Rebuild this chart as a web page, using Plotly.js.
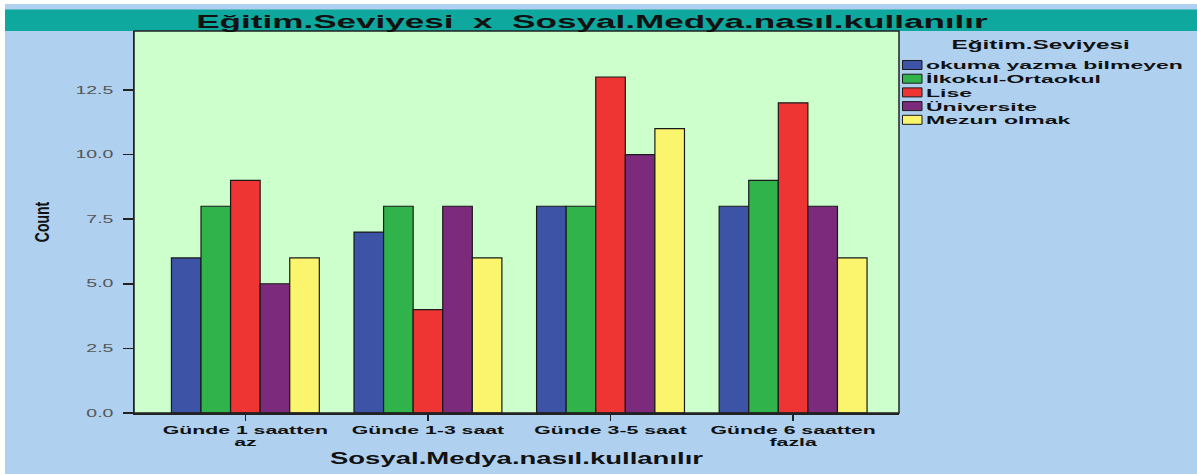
<!DOCTYPE html>
<html>
<head>
<meta charset="utf-8">
<script src="https://cdn.plot.ly/plotly-3.0.1.min.js"></script>
<style>html,body{margin:0;padding:0;background:#fff;}#chart{width:1197px;height:474px;}</style>
</head>
<body>
<div id="chart"></div>
<script>
const categories = ["Günde 1 saatten<br>az", "Günde 1-3 saat", "Günde 3-5 saat", "Günde 6 saatten<br>fazla"];
const seriesNames = ["okuma yazma bilmeyen", "İlkokul-Ortaokul", "Lise", "Üniversite", "Mezun olmak"];
const okumaYazma = [6, 7, 8, 8];
const ilkokul = [8, 8, 8, 9];
const lise = [9, 4, 13, 12];
const universite = [5, 8, 10, 8];
const mezun = [6, 6, 11, 6];
const seriesValues = [okumaYazma, ilkokul, lise, universite, mezun];
const colors = ["#3c53a6", "#2fb34a", "#ef3434", "#7b2a7c", "#faf56c"];
const yTicks = [0, 2.5, 5, 7.5, 10, 12.5];
const legendTitle = "Eğitim.Seviyesi";
const chartTitle = "Eğitim.Seviyesi  x  Sosyal.Medya.nasıl.kullanılır";
const xTitle = "Sosyal.Medya.nasıl.kullanılır";
const yTitle = "Count";

const FONT = 'Liberation Sans, Arial, sans-serif';
const W = 1197, H = 474;
const M = {l: 134, r: 298, t: 31, b: 61};
const plotW = W - M.l - M.r, plotH = H - M.t - M.b;
const px = xPix => (xPix - M.l) / plotW;
const py = yPix => (H - M.b - yPix) / plotH;

const traces = seriesNames.map((n, i) => ({
  type: 'bar',
  name: n,
  x: [0, 1, 2, 3],
  y: seriesValues[i],
  marker: {color: colors[i], line: {color: '#1a1a1a', width: 1.2}},
  hoverinfo: 'y+name'
}));

const shapes = [
  {type: 'rect', xref: 'paper', yref: 'paper', x0: px(0), x1: px(W), y0: py(4), y1: py(0), fillcolor: '#ffffff', line: {width: 0}, layer: 'below'},
  {type: 'rect', xref: 'paper', yref: 'paper', x0: px(0), x1: px(5), y0: py(H), y1: py(0), fillcolor: '#ffffff', line: {width: 0}, layer: 'below'},
  {type: 'rect', xref: 'paper', yref: 'paper', x0: px(5), x1: px(W), y0: py(31), y1: py(9.5), fillcolor: '#0fa89e', line: {width: 0}, layer: 'below'},
  {type: 'rect', xref: 'paper', yref: 'paper', x0: 0, x1: 1, y0: 0, y1: 1, line: {color: '#222', width: 1.5}, fillcolor: 'rgba(0,0,0,0)', layer: 'above'}
];
const annotations = [
  {xref: 'paper', yref: 'paper', x: px(1040), y: py(45), xanchor: 'center', yanchor: 'middle', showarrow: false,
   text: legendTitle, font: {family: FONT, size: 13, weight: 'bold', color: '#111'}}
];
seriesNames.forEach((n, i) => {
  const cy = 65 + i * 13.7;
  shapes.push({type: 'rect', xref: 'paper', yref: 'paper', x0: px(902.5), x1: px(922), y0: py(cy + 4.5), y1: py(cy - 4.5),
    fillcolor: colors[i], line: {color: '#1a1a1a', width: 1}, layer: 'above'});
  annotations.push({xref: 'paper', yref: 'paper', x: px(924), y: py(cy + 0.5), xanchor: 'left', yanchor: 'middle', align: 'left',
    showarrow: false, text: n, font: {family: FONT, size: 11.5, weight: 'bold', color: '#111'}});
});

const layout = {
  width: W, height: H,
  paper_bgcolor: '#afd0ef',
  plot_bgcolor: '#ccffcc',
  margin: M,
  barmode: 'group',
  bargap: 0.19,
  bargroupgap: 0,
  showlegend: false,
  font: {family: FONT, color: '#000'},
  title: {
    text: chartTitle,
    font: {family: FONT, size: 18, weight: 'bold', color: '#111'},
    x: 592 / W, xanchor: 'center', xref: 'container',
    y: 1, yref: 'container', yanchor: 'top', pad: {t: 15}
  },
  xaxis: {
    range: [-0.61, 3.58],
    tickmode: 'array', tickvals: [0, 1, 2, 3], ticktext: categories,
    ticks: 'outside', ticklen: 6, tickcolor: '#222', tickwidth: 1.5,
    showline: true, linecolor: '#222', linewidth: 1.5,
    showgrid: false, zeroline: false,
    tickfont: {family: FONT, size: 11.5, weight: 'bold', color: '#111'},
    title: {text: xTitle, font: {family: FONT, size: 16, weight: 'bold', color: '#111'}, standoff: 2}
  },
  yaxis: {
    range: [0, 14.78],
    tickmode: 'array', tickvals: yTicks, ticktext: yTicks.map(v => v.toFixed(1)),
    ticks: 'outside', ticklen: 10, tickcolor: '#222', tickwidth: 1.5,
    ticklabelstandoff: 7,
    showline: true, linecolor: '#222', linewidth: 1.5,
    showgrid: false, zeroline: false,
    tickfont: {family: FONT, size: 10.5, color: '#555'},
    title: {text: yTitle, font: {family: FONT, size: 14, weight: 'bold', color: '#111'}, standoff: 40}
  },
  shapes: shapes,
  annotations: annotations
};

// The reference chart's lettering is horizontally widened; reproduce that by stretching the real text nodes.
function stretch(nodes, k, vertical) {
  nodes.forEach(el => {
    const x = parseFloat(el.getAttribute('x')) || 0;
    const y = parseFloat(el.getAttribute('y')) || 0;
    const t = el.getAttribute('transform') || '';
    const add = vertical
      ? ` translate(0,${y}) scale(1,${k}) translate(0,${-y})`
      : ` translate(${x},0) scale(${k},1) translate(${-x},0)`;
    el.setAttribute('transform', (t + add).trim());
  });
}

Plotly.newPlot('chart', traces, layout, {displayModeBar: false, staticPlot: true}).then(gd => {
  const q = s => Array.from(gd.querySelectorAll(s));
  // tighter line spacing for two-line category labels
  q('.xtick text tspan.line').forEach((ts, i) => {
    const dy = ts.getAttribute('dy');
    if (dy && parseFloat(dy) > 0) ts.setAttribute('dy', '1.0em');
  });
  stretch(q('.gtitle'), 1.95);
  stretch(q('.xtick text'), 1.85);
  stretch(q('.ytick text'), 1.86);
  stretch(q('.xtitle'), 1.72);
  stretch(q('.ytitle'), 1.4, true);
  const ann = q('.annotation-text');
  ann.forEach((el, i) => stretch([el], i === 0 ? 1.87 : 2.0));
});
</script>
</body>
</html>
